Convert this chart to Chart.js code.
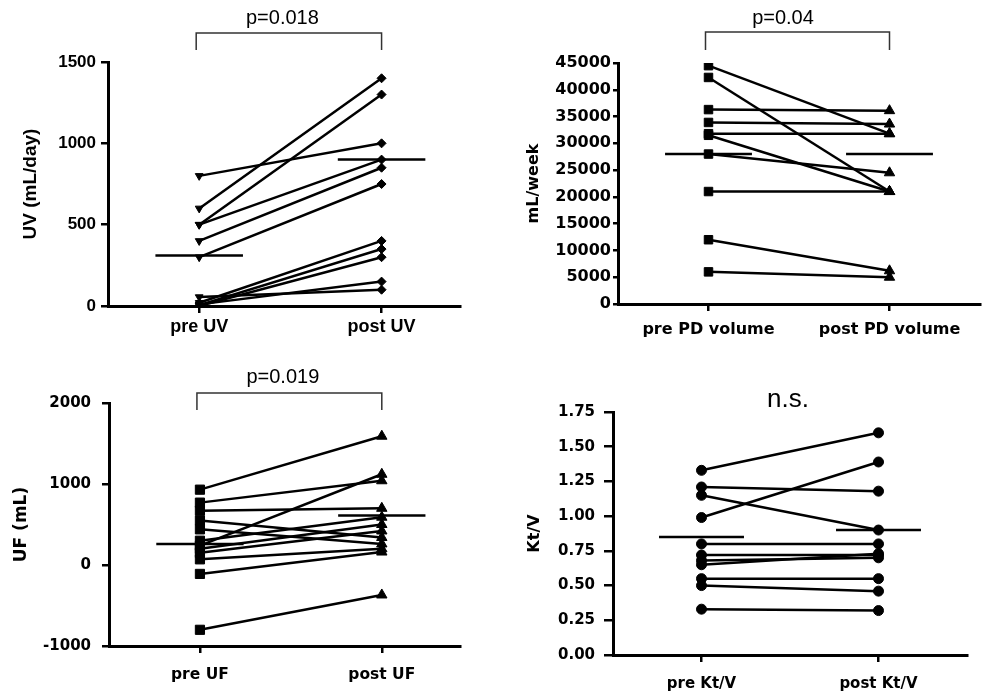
<!DOCTYPE html>
<html>
<head>
<meta charset="utf-8">
<script src="https://cdn.jsdelivr.net/npm/chart.js@4/dist/chart.umd.min.js"></script>
<style>
    body { margin: 0; background: #fff; }
    canvas { position: absolute; }
</style>
</head>
<body>
<canvas id="uvChart" width="470" height="345" style="left:0;top:0"></canvas>
<canvas id="pdChart" width="507" height="345" style="left:480px;top:0"></canvas>
<canvas id="ufChart" width="470" height="345" style="left:0;top:350px"></canvas>
<canvas id="ktChart" width="497" height="345" style="left:480px;top:350px"></canvas>
<script>
// values, one entry per patient
const uvCats = ['pre UV', 'post UV'];
const uvPre = [800, 600, 500, 500, 400, 300, 55, 10, 20, 5, 0];
const uvPost = [1000, 1400, 1300, 900, 850, 750, 100, 150, 400, 350, 300];
const uvMeans = [310, 900];

const pdCats = ['pre PD volume', 'post PD volume'];
const pdPre = [44500, 42300, 36300, 33900, 31800, 31500, 28000, 21000, 12000, 6000];
const pdPost = [31800, 21000, 36100, 33600, 31800, 21000, 24500, 21000, 6200, 5000];
const pdMeans = [28000, 28000];

const ufCats = ['pre UF', 'post UF'];
const ufPre = [930, 770, 670, 550, 440, 300, 240, 200, 150, 70, -110, -800];
const ufPost = [1590, 1040, 700, 340, 260, 590, 1120, 500, 420, 200, 160, -370];
const ufMeans = [260, 610];

const ktCats = ['pre Kt/V', 'post Kt/V'];
const ktPre = [1.33, 1.21, 1.15, 0.99, 0.80, 0.72, 0.68, 0.65, 0.55, 0.50, 0.33];
const ktPost = [1.60, 1.18, 0.90, 1.39, 0.80, 0.72, 0.70, 0.73, 0.55, 0.46, 0.32];
const ktMeans = [0.85, 0.90];

const bracketPlugin = {
    id: 'bracket',
    afterDraw(chart, args, opts) {
        const ctx = chart.ctx;
        const x1 = chart.scales.x.getPixelForValue(1);
        const x2 = chart.scales.x.getPixelForValue(2);
        ctx.save();
        if (opts.top !== undefined) {
            ctx.strokeStyle = '#333';
            ctx.lineWidth = 1.5;
            ctx.beginPath();
            ctx.moveTo(x1 - 3, opts.drop);
            ctx.lineTo(x1 - 3, opts.top);
            ctx.lineTo(x2, opts.top);
            ctx.lineTo(x2, opts.drop);
            ctx.stroke();
        }
        ctx.fillStyle = '#000';
        ctx.font = opts.font;
        ctx.textAlign = 'center';
        ctx.fillText(opts.text, (x1 + x2) / 2 + opts.dx, opts.base);
        ctx.restore();
    },
};

const makePanel = (id, o) => {
    let datasets = o.pre.map((v, i) => ({
        data: [{ x: 1, y: v }, { x: 2, y: o.post[i] }],
        showLine: true,
        borderColor: '#000',
        backgroundColor: '#000',
        borderWidth: 2.5,
        pointStyle: o.markers,
        rotation: o.rotation,
        pointRadius: o.radius,
        pointBorderWidth: 1,
    }));
    o.means.forEach((m, i) => {
        datasets.push({
            data: [{ x: i + 0.76, y: m }, { x: i + 1.24, y: m }],
            showLine: true,
            borderColor: '#000',
            borderWidth: 2.5,
            pointRadius: 0,
        });
    });

    new Chart(document.getElementById(id), {
        type: 'scatter',
        data: { datasets: datasets },
        options: {
            responsive: false,
            animation: false,
            devicePixelRatio: 1,
            layout: { padding: { top: o.padTop, right: o.padRight, left: 0, bottom: 0 } },
            plugins: {
                legend: { display: false },
                tooltip: { enabled: false },
                bracket: o.bracket,
            },
            scales: {
                x: {
                    type: 'linear',
                    min: 0.5,
                    max: o.xMax,
                    afterBuildTicks: (scale) => {
                        scale.ticks = [{ value: 1 }, { value: 2 }];
                    },
                    afterFit: (scale) => {
                        scale.height = o.xHeight;
                    },
                    border: { color: '#000', width: 3 },
                    grid: { drawOnChartArea: false, color: '#000', lineWidth: 2.5, tickLength: 7 },
                    ticks: {
                        color: '#000',
                        padding: o.xPad,
                        font: o.catFont,
                        maxRotation: 0,
                        callback: (v) => o.cats[v - 1],
                    },
                },
                y: {
                    min: o.yMin,
                    max: o.yMax,
                    afterFit: (scale) => {
                        scale.width = o.yWidth;
                    },
                    border: { color: '#000', width: 3 },
                    grid: { drawOnChartArea: false, color: '#000', lineWidth: 2.5, tickLength: o.yTick },
                    ticks: {
                        color: '#000',
                        stepSize: o.yStep,
                        padding: o.yPad,
                        font: o.tickFont,
                        callback: o.fmt || ((v) => v),
                    },
                    title: {
                        display: true,
                        text: o.title,
                        color: '#000',
                        font: o.titleFont,
                        padding: { top: o.titlePad, bottom: 0 },
                    },
                },
            },
        },
        plugins: [bracketPlugin],
    });
};

const lib = '"Liberation Sans", Arial, sans-serif';
const dv = '"DejaVu Sans", sans-serif';

makePanel('uvChart', {
    pre: uvPre, post: uvPost, means: uvMeans, cats: uvCats,
    markers: ['triangle', 'rectRot'], rotation: [180, 0], radius: [4.5, 4.5],
    yMin: 0, yMax: 1500, yStep: 500, title: 'UV (mL/day)',
    padTop: 62, padRight: 10, xMax: 2.43, xHeight: 39, yWidth: 108,
    xPad: 3, yPad: 5, yTick: 7, titlePad: 19,
    tickFont: { family: lib, size: 17, weight: 'bold' },
    catFont: { family: lib, size: 18, weight: 'bold' },
    titleFont: { family: lib, size: 19, weight: 'bold' },
    bracket: { text: 'p=0.018', top: 33, drop: 50, base: 24, dx: -8, font: '20px ' + lib },
});

makePanel('pdChart', {
    pre: pdPre, post: pdPost, means: pdMeans, cats: pdCats,
    markers: ['rect', 'triangle'], rotation: [0, 0], radius: [6, 6],
    yMin: 0, yMax: 45000, yStep: 5000, title: 'mL/week',
    padTop: 63, padRight: 0, xMax: 2.5, xHeight: 41, yWidth: 138,
    xPad: 9, yPad: 2, yTick: 5, titlePad: 44,
    tickFont: { family: dv, size: 16, weight: 'bold' },
    catFont: { family: dv, size: 16, weight: 'bold' },
    titleFont: { family: dv, size: 16, weight: 'bold' },
    bracket: { text: 'p=0.04', top: 32, drop: 50, base: 24, dx: -16, font: '20px ' + lib },
});

makePanel('ufChart', {
    pre: ufPre, post: ufPost, means: ufMeans, cats: ufCats,
    markers: ['rect', 'triangle'], rotation: [0, 0], radius: [6.5, 6],
    yMin: -1000, yMax: 2000, yStep: 1000, title: 'UF (mL)',
    padTop: 53, padRight: 10, xMax: 2.43, xHeight: 49, yWidth: 109,
    xPad: 13, yPad: 11, yTick: 7, titlePad: 11,
    tickFont: { family: dv, size: 15, weight: 'bold' },
    catFont: { family: dv, size: 15.5, weight: 'bold' },
    titleFont: { family: dv, size: 17, weight: 'bold' },
    bracket: { text: 'p=0.019', top: 43, drop: 60, base: 33, dx: -8, font: '20px ' + lib },
});

makePanel('ktChart', {
    pre: ktPre, post: ktPost, means: ktMeans, cats: ktCats,
    markers: ['circle', 'circle'], rotation: [0, 0], radius: [5, 5],
    yMin: 0, yMax: 1.75, yStep: 0.25, title: 'Kt/V',
    padTop: 62, padRight: 10, xMax: 2.5, xHeight: 40, yWidth: 133,
    xPad: 13, yPad: 9, yTick: 9, titlePad: 45,
    fmt: (v) => v.toFixed(2),
    tickFont: { family: dv, size: 15, weight: 'bold' },
    catFont: { family: dv, size: 15, weight: 'bold' },
    titleFont: { family: dv, size: 16, weight: 'bold' },
    bracket: { text: 'n.s.', base: 57, dx: -2, font: '26px ' + lib },
});
</script>
</body>
</html>
